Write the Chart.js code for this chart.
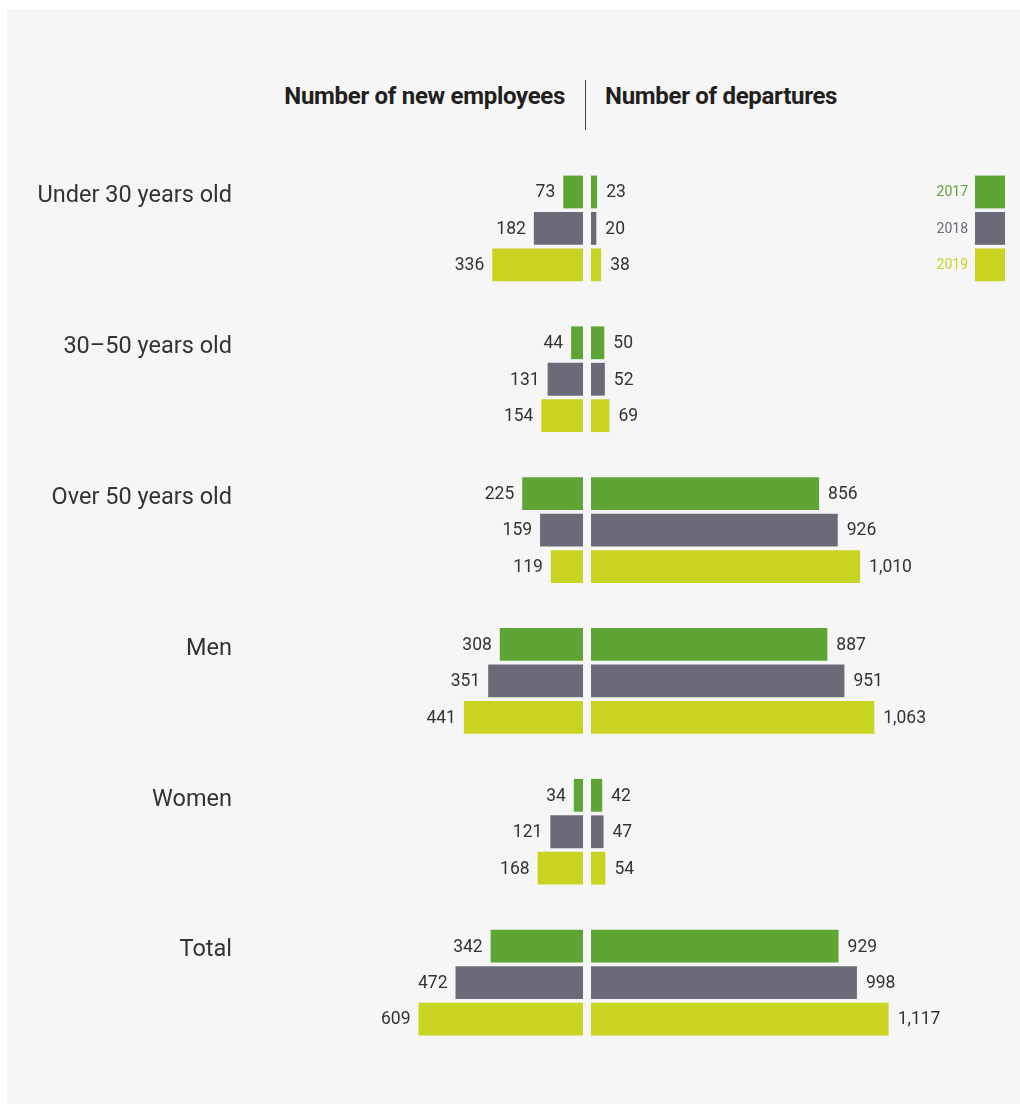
<!DOCTYPE html>
<html>
<head>
<meta charset="utf-8">
<script src="https://cdn.jsdelivr.net/npm/chart.js@4"></script>
<style>
  html, body { margin: 0; padding: 0; background: #fff; }
  #wrap { position: relative; width: 1020px; height: 1104px; overflow: hidden; }
  #panel { position: absolute; left: 7px; top: 9px; width: 1013px; height: 1095px; background: #f6f6f6; }
  .title { position: absolute; top: 82px; font: 700 24px Roboto, sans-serif; color: #231f20; white-space: nowrap; letter-spacing: -0.3px; }
  #titleLeft { right: 455px; }
  #titleRight { left: 605px; }
  #divider { position: absolute; left: 585px; top: 80px; width: 1px; height: 50px; background: #444; }
  #leftBox { position: absolute; left: 0; top: 0; width: 587px; height: 1104px; }
  #rightBox { position: absolute; left: 587px; top: 0; width: 433px; height: 1104px; }
</style>
</head>
<body>
<div id="wrap">
  <div id="panel"></div>
  <div class="title" id="titleLeft">Number of new employees</div>
  <div id="divider"></div>
  <div class="title" id="titleRight">Number of departures</div>
  <div id="leftBox"><canvas id="newChart"></canvas></div>
  <div id="rightBox"><canvas id="depChart"></canvas></div>
</div>
<script>
const categories = ['Under 30 years old', '30–50 years old', 'Over 50 years old', 'Men', 'Women', 'Total'];
const years = ['2017', '2018', '2019'];
const colors = ['#5ea535', '#6a6a78', '#c8d322'];

const newHires2017 = [73, 44, 225, 308, 34, 342];
const newHires2018 = [182, 131, 159, 351, 121, 472];
const newHires2019 = [336, 154, 119, 441, 168, 609];

const departures2017 = [23, 50, 856, 887, 42, 929];
const departures2018 = [20, 52, 926, 951, 47, 998];
const departures2019 = [38, 69, 1010, 1063, 54, 1117];

const valueFont = '17.5px Roboto, sans-serif';

function makeDatasets(series) {
  return series.map((data, i) => ({
    label: years[i],
    data,
    backgroundColor: colors[i],
    categoryPercentage: 0.725,
    barPercentage: 0.9,
  }));
}

// value labels at the end of each bar
const valueLabels = {
  id: 'valueLabels',
  afterDatasetsDraw(chart, args, opts) {
    const ctx = chart.ctx;
    ctx.save();
    ctx.font = valueFont;
    ctx.fillStyle = '#333';
    ctx.textBaseline = 'middle';
    chart.data.datasets.forEach((ds, i) => {
      chart.getDatasetMeta(i).data.forEach((bar, j) => {
        const text = ds.data[j].toLocaleString('en-US');
        if (opts.side === 'left') {
          ctx.textAlign = 'right';
          ctx.fillText(text, bar.x - 8, bar.y + 1);
        } else {
          ctx.textAlign = 'left';
          ctx.fillText(text, bar.x + 9, bar.y + 1);
        }
      });
    });
    ctx.restore();
  },
};

// legend boxes aligned with the first category bars
const sideLegend = {
  id: 'sideLegend',
  afterDraw(chart, args, opts) {
    if (!opts.show) return;
    const ctx = chart.ctx;
    const right = chart.width - 15;
    ctx.save();
    ctx.font = '14px Roboto, sans-serif';
    ctx.textAlign = 'right';
    ctx.textBaseline = 'middle';
    chart.data.datasets.forEach((ds, i) => {
      const bar = chart.getDatasetMeta(i).data[0];
      const h = bar.height;
      ctx.fillStyle = ds.backgroundColor;
      ctx.fillRect(right - 30, bar.y - h / 2, 30, h);
      ctx.fillText(ds.label, right - 37, bar.y + 1);
    });
    ctx.restore();
  },
};

const baseOptions = {
  indexAxis: 'y',
  responsive: true,
  maintainAspectRatio: false,
  animation: false,
  events: [],
  plugins: { legend: { display: false }, tooltip: { enabled: false } },
};

new Chart(document.getElementById('newChart'), {
  type: 'bar',
  data: {
    labels: categories,
    datasets: makeDatasets([newHires2017, newHires2018, newHires2019]),
  },
  options: {
    ...baseOptions,
    layout: { padding: { top: 153, bottom: 46, right: 4, left: 0 } },
    plugins: { ...baseOptions.plugins, valueLabels: { side: 'left' } },
    scales: {
      x: { display: false, reverse: true, min: 0, max: 1270 },
      y: {
        grid: { display: false, drawTicks: false },
        border: { display: false },
        afterFit: (scale) => { scale.width = 240; },
        ticks: {
          padding: 8,
          labelOffset: -32,
          color: '#333',
          font: { family: 'Roboto, sans-serif', size: 23.5 },
        },
      },
    },
  },
  plugins: [valueLabels],
});

new Chart(document.getElementById('depChart'), {
  type: 'bar',
  data: {
    labels: categories,
    datasets: makeDatasets([departures2017, departures2018, departures2019]),
  },
  options: {
    ...baseOptions,
    layout: { padding: { top: 153, bottom: 46, left: 4, right: 0 } },
    plugins: { ...baseOptions.plugins, valueLabels: { side: 'right' }, sideLegend: { show: true } },
    scales: {
      x: { display: false, min: 0, max: 1610 },
      y: { display: false },
    },
  },
  plugins: [valueLabels, sideLegend],
});
</script>
</body>
</html>
